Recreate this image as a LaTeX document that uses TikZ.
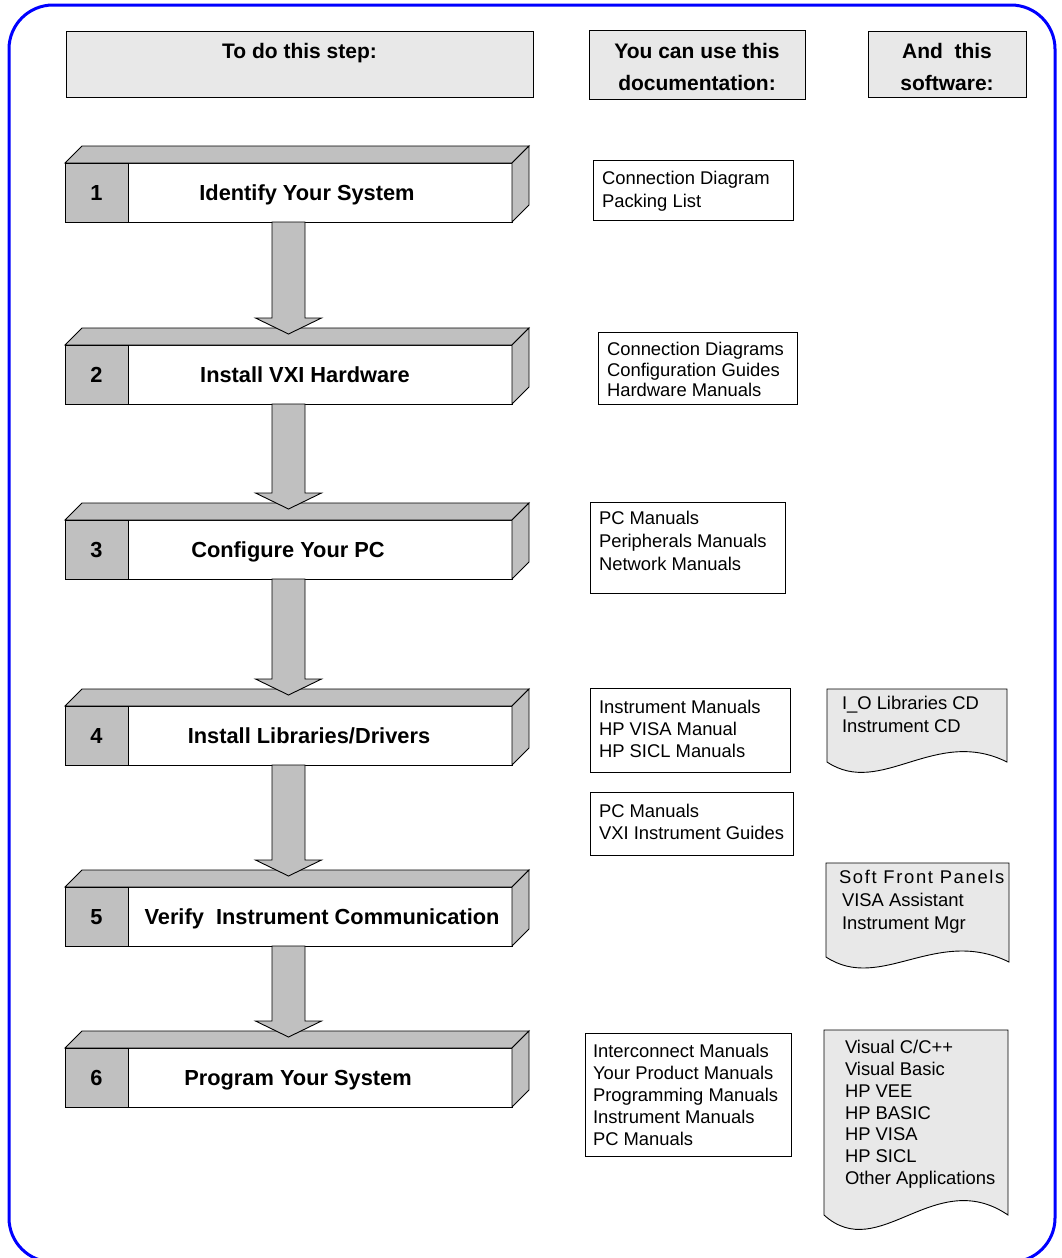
\documentclass[tikz,border=0pt]{standalone}
\usepackage{fontspec}
\setmainfont{Liberation Sans}
\usetikzlibrary{calc}

\definecolor{boxgray}{HTML}{C0C0C0}
\definecolor{panegray}{HTML}{E8E8E8}
\definecolor{frameblue}{HTML}{0000FF}

\tikzset{
  every node/.style={inner sep=0pt, outer sep=0pt},
  outline/.style={draw=black, line width=0.9pt, line join=miter},
  front/.style={outline, fill=white, rectangle, minimum width=447pt, minimum height=59pt},
  face/.style={outline, fill=boxgray},
  steplabel/.style={font=\fontsize{21.8}{26}\selectfont\bfseries, text height=15.6pt, text depth=0pt},
  numcell/.style={outline, fill=boxgray, rectangle, minimum width=63pt, minimum height=59pt, steplabel},
  header/.style={outline, fill=panegray, rectangle},
  headtext/.style={font=\fontsize{21}{32}\selectfont\bfseries, align=center, anchor=north},
  docbox/.style={outline, fill=white, rectangle, anchor=north west},
  doctext/.style={font=\fontsize{18.4}{22}\selectfont, align=left, anchor=north west},
  swdoc/.style={outline, fill=panegray},
  flow/.style={outline, fill=boxgray},
}

% 3D step bar: name, top edge, number, label centre x, label
\newcommand\stepbox[5]{%
  \node[front, anchor=north west] (#1) at (65,#2) {};
  \path[face] (#1.north west) -- ++(17pt,17pt) -- ([shift={(17pt,17pt)}]#1.north east) -- (#1.north east) -- cycle;
  \path[face] (#1.north east) -- ++(17pt,17pt) -- ([shift={(17pt,17pt)}]#1.south east) -- (#1.south east) -- cycle;
  \node[numcell, anchor=north west] (#1n) at (#1.north west) {#3};
  \node[steplabel] (#1t) at (#4,{#2+29.5}) {#5};
}

% broad block arrow from one step bar down onto the next
\newcommand\flowarrow[2]{%
  \path[flow] let \p1=(#1.south), \p2=(#2.north) in
    (\x1-16.5pt,\y1) -- (\x1-16.5pt,\y2+27pt) -- (\x1-33pt,\y2+27pt) -- (\x1,\y2+11pt)
    -- (\x1+33pt,\y2+27pt) -- (\x1+16.5pt,\y2+27pt) -- (\x1+16.5pt,\y1) -- cycle;
}

% software sheet with a wavy lower edge: left, top, right, bottom-left, bottom-right, wave depth
\newcommand\swsheet[6]{%
  \path[swdoc] (#1,#2) -- (#3,#2) -- (#3,#5)
    .. controls ({#1+0.6*(#3-#1)},{#5-#6}) and ({#1+0.3*(#3-#1)},{#4+#6}) .. (#1,#4) -- cycle;
}

\begin{document}
\begin{tikzpicture}[x=1pt, y=-1pt]
  \useasboundingbox (0,0) rectangle (1061,1258);

  % outer frame
  \draw[frameblue, line width=3pt, rounded corners=44pt] (9,5) rectangle (1055,1262);

  % column headers
  \node[header, anchor=north west, minimum width=467pt, minimum height=66pt] (h1) at (66,31) {};
  \node[header, anchor=north west, minimum width=216pt, minimum height=69pt] (h2) at (589,30) {};
  \node[header, anchor=north west, minimum width=158pt, minimum height=66pt] (h3) at (868,31) {};
  \node[headtext] (h1t) at (299.5,36) {\strut To do this step:};
  \node[headtext] (h2t) at (697,36) {\strut You can use this\\documentation:};
  \node[headtext] (h3t) at (947,36) {\strut And\ \ this\\software:};

  % step bars
  \stepbox{s1}{163}{1}{307}{Identify Your System}
  \stepbox{s2}{345}{2}{305}{Install VXI Hardware}
  \stepbox{s3}{520}{3}{288}{Configure Your PC}
  \stepbox{s4}{706}{4}{309}{Install Libraries/Drivers}
  \stepbox{s5}{887}{5}{322}{Verify\ \ Instrument Communication}
  \stepbox{s6}{1048}{6}{298}{Program Your System}

  % arrows between the steps
  \flowarrow{s1}{s2}
  \flowarrow{s2}{s3}
  \flowarrow{s3}{s4}
  \flowarrow{s4}{s5}
  \flowarrow{s5}{s6}

  % documentation boxes
  \node[docbox, minimum width=200pt, minimum height=60pt] (d1) at (593,160) {};
  \node[doctext, font=\fontsize{18.4}{23}\selectfont] (d1t) at (602,168.8) {\strut Connection Diagram\\Packing List};
  \node[docbox, minimum width=199pt, minimum height=72pt] (d2) at (598,332) {};
  \node[doctext, font=\fontsize{18.4}{20.5}\selectfont] (d2t) at (607,341.5) {\strut Connection Diagrams\\Configuration Guides\\Hardware Manuals};
  \node[docbox, minimum width=195pt, minimum height=91pt] (d3) at (590,502) {};
  \node[doctext, font=\fontsize{18.4}{23}\selectfont] (d3t) at (599,508.8) {\strut PC Manuals\\Peripherals Manuals\\Network Manuals};
  \node[docbox, minimum width=200pt, minimum height=84pt] (d4) at (590,688) {};
  \node[doctext] (d4t) at (599,698.2) {\strut Instrument Manuals\\HP VISA Manual\\HP SICL Manuals};
  \node[docbox, minimum width=203pt, minimum height=63pt] (d5) at (590,792) {};
  \node[doctext] (d5t) at (599,802.2) {\strut PC Manuals\\VXI Instrument Guides};
  \node[docbox, minimum width=206pt, minimum height=123pt] (d6) at (585,1033) {};
  \node[doctext] (d6t) at (593,1042.2) {\strut Interconnect Manuals\\Your Product Manuals\\Programming Manuals\\Instrument Manuals\\PC Manuals};

  % software sheets
  \swsheet{827}{689}{1007}{762}{762}{36}
  \node[doctext, font=\fontsize{18.4}{23}\selectfont] (w4t) at (842,693.8) {\strut I\_O Libraries CD\\Instrument CD};
  \swsheet{826}{863}{1009}{957}{962}{36}
  \node[doctext, font=\fontsize{18.4}{23}\selectfont] (w5t) at (839,867.8) {\strut{\addfontfeature{LetterSpace=9}Soft Front Panels}\\\hspace{3pt}VISA Assistant\\\hspace{3pt}Instrument Mgr};
  \swsheet{824}{1030}{1008}{1215}{1215}{50}
  \node[doctext, font=\fontsize{18.4}{21.8}\selectfont] (w6t) at (845,1038.4) {\strut Visual C/C++\\Visual Basic\\HP VEE\\HP BASIC\\HP VISA\\HP SICL\\Other Applications};
\end{tikzpicture}
\end{document}
